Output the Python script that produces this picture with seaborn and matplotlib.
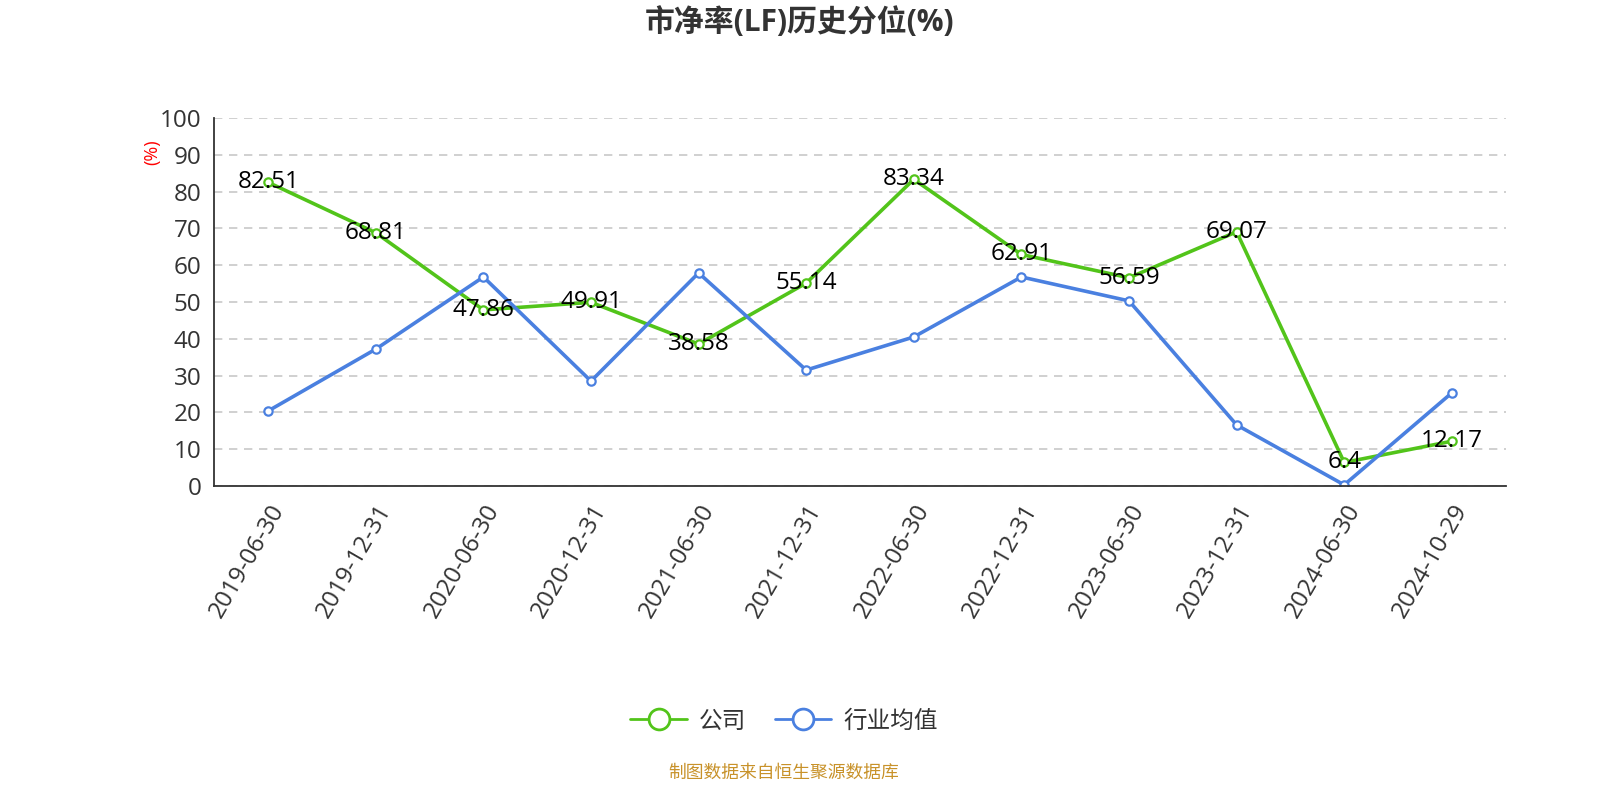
import numpy as np
import pandas as pd
import matplotlib
matplotlib.use("Agg")
import matplotlib.pyplot as plt
import seaborn as sns
from matplotlib.ticker import FixedLocator
from matplotlib.lines import Line2D

sns.set_style("white")
plt.rcParams["font.family"] = ["Open Sans", "Noto Sans CJK SC", "DejaVu Sans"]

# ── data ─────────────────────────────────────────────
dates = ["2019-06-30", "2019-12-31", "2020-06-30", "2020-12-31",
         "2021-06-30", "2021-12-31", "2022-06-30", "2022-12-31",
         "2023-06-30", "2023-12-31", "2024-06-30", "2024-10-29"]
company = [82.51, 68.81, 47.86, 49.91, 38.58, 55.14,
           83.34, 62.91, 56.59, 69.07, 6.4, 12.17]
industry = [20.4, 37.2, 56.8, 28.5, 57.9, 31.5,
            40.5, 56.8, 50.3, 16.6, 0.3, 25.3]

GREEN = "#52c41a"
BLUE = "#4a80e0"

df = pd.DataFrame({
    "pos": list(range(len(dates))) * 2,
    "value": company + industry,
    "series": ["公司"] * len(dates) + ["行业均值"] * len(dates),
})

fig = plt.figure(figsize=(16, 8), dpi=100)
ax = fig.add_axes([0.134, 0.3925, 0.807, 0.46])

sns.lineplot(data=df, x="pos", y="value", hue="series",
             palette={"公司": GREEN, "行业均值": BLUE},
             marker="o", markersize=6, markerfacecolor="white",
             markeredgewidth=1.6, linewidth=2.6, ax=ax, legend=False)
for line, c in zip(ax.lines, [GREEN, BLUE]):
    line.set_markeredgecolor(c)
    line.set_markerfacecolor("white")

# value labels for company series
for i, v in enumerate(company):
    ax.text(i, v, f"{v:g}", ha="center", va="center", fontsize=17.5,
            color="black", zorder=5)

ax.set_xlim(-0.5, len(dates) - 0.5)
ax.set_ylim(0, 100)
ax.set_yticks(np.arange(0, 101, 10))
ax.set_xticks(range(len(dates)))
ax.set_xticklabels(dates, rotation=60, ha="right", rotation_mode="anchor",
                   fontsize=17.5, color="#333333")
ax.xaxis.set_minor_locator(FixedLocator(np.arange(-0.5, len(dates), 1)))
ax.tick_params(axis="x", which="major", length=0, pad=10)
ax.tick_params(axis="x", which="minor", length=6, width=1.2, color="#333333")
ax.tick_params(axis="y", length=6, width=1.2, color="#333333",
               labelsize=17.5, labelcolor="#333333")
ax.set_xlabel("")
ax.set_ylabel("")
ax.yaxis.grid(True, linestyle=(0, (5, 4)), color="#c8c8c8", linewidth=1.2)
ax.xaxis.grid(False)
for s in ["top", "right"]:
    ax.spines[s].set_visible(False)
for s in ["left", "bottom"]:
    ax.spines[s].set_color("#333333")
    ax.spines[s].set_linewidth(1.3)

fig.text(0.095, 0.81, "(%)", rotation=90, color="red", fontsize=13,
         ha="center", va="center")

fig.text(0.5, 0.972, "市净率(LF)历史分位(%)", ha="center", va="center",
         fontsize=21.5, fontweight="bold", color="#333333")

# legend
handles = [Line2D([], [], color=GREEN, linewidth=2, marker="o", markersize=15,
                  markerfacecolor="white", markeredgewidth=2),
           Line2D([], [], color=BLUE, linewidth=2, marker="o", markersize=15,
                  markerfacecolor="white", markeredgewidth=2)]
fig.legend(handles, ["公司", "行业均值"], loc="center", ncol=2,
           bbox_to_anchor=(0.49, 0.098), frameon=False, fontsize=17,
           handlelength=2.4, columnspacing=1.2, handletextpad=0.5,
           labelcolor="#333333")

fig.text(0.49, 0.034, "制图数据来自恒生聚源数据库", ha="center", va="center",
         fontsize=12.8, color="#c8922a")

fig.savefig("out.png", dpi=100)
